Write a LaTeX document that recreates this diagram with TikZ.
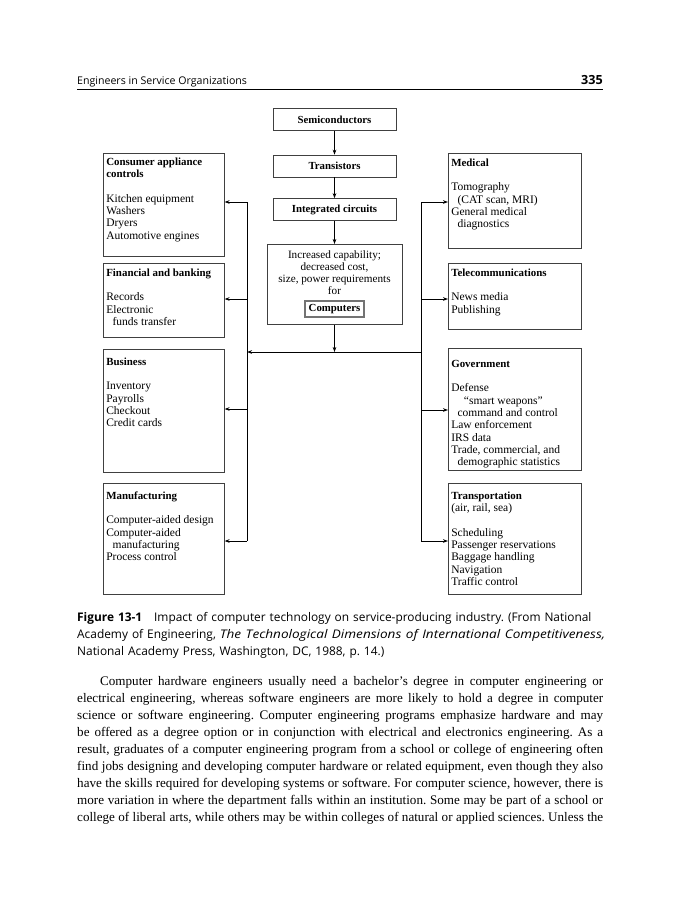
\documentclass[tikz,border=0pt]{standalone}
\usepackage{fontspec}
\usepackage{graphicx}
\setmainfont{Liberation Serif}
\newfontfamily\sansf{Open Sans}
\usetikzlibrary{arrows.meta,calc}
\frenchspacing
\newcommand\figfont{\fontsize{11.5}{12.3}\selectfont}
\newcommand\hdg[1]{{\fontsize{10.9}{12.3}\selectfont\bfseries #1}}
\newcommand\boxtext[4]{\parbox[t][#2][t]{#1}{\rule{0pt}{#3}#4}}
\newcommand\ind{\hspace*{0.55em}}
\newcommand\jl[1]{\makebox[526pt][s]{#1}}
\tikzset{
  catbox/.style={draw=black!75, line width=0.6pt, inner xsep=3pt, inner ysep=0pt, anchor=north west, font=\figfont},
  stepbox/.style={draw=black!75, line width=0.6pt, minimum width=123pt, minimum height=22pt, inner sep=0pt, font=\fontsize{10.8}{12.3}\selectfont\bfseries},
  arr/.style={-{Stealth[length=5pt,width=3.6pt]}, line width=0.85pt},
  ln/.style={line width=0.85pt}
}
\begin{document}
\begin{tikzpicture}[x=1pt,y=-1pt]
\useasboundingbox (0,0) rectangle (680,900);
\fill[white] (0,0) rectangle (680,900);
% header
\node[anchor=base west, inner sep=0pt, font=\sansf\fontsize{10.6}{12}\selectfont] (hd) at (77,84) {Engineers in Service Organizations};
\node[anchor=base east, inner sep=0pt, font=\sansf\bfseries\fontsize{12.6}{14}\selectfont] (pg) at (603,84) {335};
\coordinate (rl) at (77,89);
\coordinate (rr) at (603,89);
\draw[line width=0.8pt] (rl) -- (rr);
% center stack
\node[stepbox] (semi) at (334.5,119.5) {Semiconductors};
\node[stepbox] (trans) at (334.5,166) {Transistors};
\node[stepbox] (ic) at (334.5,209.5) {Integrated circuits};
\node[draw=black!75, line width=0.6pt, minimum width=135pt, minimum height=80pt, inner sep=0pt, anchor=north] (inc) at (334.5,244) {};
\node[anchor=north, align=center, inner sep=0pt, font=\fontsize{11.2}{12.2}\selectfont] (inctext) at (334.5,246) {\rule{0pt}{12pt}Increased capability;\\decreased cost,\\size, power requirements\\for};
\node[draw=black!55, line width=1.3pt, minimum width=59pt, minimum height=16pt, inner sep=0pt, font=\fontsize{10.8}{12.3}\selectfont\bfseries] (comp) at (334.5,309) {Computers};
% left boxes
\node[catbox] (cons) at (103,153) {\boxtext{115pt}{103pt}{12pt}{\hdg{Consumer appliance}\\\hdg{controls}\\[12.3pt]Kitchen equipment\\Washers\\Dryers\\Automotive engines}};
\node[catbox] (fin) at (103,263) {\boxtext{115pt}{74pt}{13pt}{\hdg{Financial and banking}\\[12.3pt]Records\\Electronic\\\ind funds transfer}};
\node[catbox] (bus) at (103,349) {\boxtext{115pt}{123pt}{16pt}{\hdg{Business}\\[12.3pt]Inventory\\Payrolls\\Checkout\\Credit cards}};
\node[catbox] (man) at (103,483) {\boxtext{115pt}{111pt}{16pt}{\hdg{Manufacturing}\\[12.3pt]Computer-aided design\\Computer-aided\\\ind manufacturing\\Process control}};
% right boxes
\node[catbox] (med) at (448,153) {\boxtext{127pt}{95pt}{13pt}{\hdg{Medical}\\[12.3pt]Tomography\\\ind(CAT scan, MRI)\\General medical\\\ind diagnostics}};
\node[catbox] (tel) at (448,263) {\boxtext{127pt}{66pt}{13pt}{\hdg{Telecommunications}\\[12.3pt]News media\\Publishing}};
\node[catbox] (gov) at (448,348) {\boxtext{127pt}{122pt}{19pt}{\hdg{Government}\\[12.3pt]Defense\\\ind\ind ``smart weapons''\\\ind command and control\\Law enforcement\\IRS data\\Trade, commercial, and\\\ind demographic statistics}};
\node[catbox] (tra) at (448,483) {\boxtext{127pt}{111pt}{16pt}{\hdg{Transportation}\\(air, rail, sea)\\[12.3pt]Scheduling\\Passenger reservations\\Baggage handling\\Navigation\\Traffic control}};
% connectors
\draw[arr] (semi) -- (trans);
\draw[arr] (trans) -- (ic);
\draw[arr] (ic) -- (inc);
\coordinate (hc) at (334.5,352);
\draw[arr] (inc.south) -- (hc);
\coordinate (l1) at (247,202);
\coordinate (l2) at (247,299);
\coordinate (lh) at (247,352);
\coordinate (l3) at (247,409);
\coordinate (l4) at (247,541);
\coordinate (r1) at (421,202);
\coordinate (r2) at (421,299);
\coordinate (rh) at (421,352);
\coordinate (r3) at (421,410);
\coordinate (r4) at (421,541);
\draw[ln] (l1) -- (l4);
\draw[ln] (r1) -- (r4);
\draw[arr] (rh) -- (lh);
\draw[arr] (l1) -- (l1 -| cons.east);
\draw[arr] (l2) -- (l2 -| fin.east);
\draw[arr] (l3) -- (l3 -| bus.east);
\draw[arr] (l4) -- (l4 -| man.east);
\draw[arr] (r1) -- (r1 -| med.west);
\draw[arr] (r2) -- (r2 -| tel.west);
\draw[arr] (r3) -- (r3 -| gov.west);
\draw[arr] (r4) -- (r4 -| tra.west);
% caption
\node[anchor=north west, inner sep=0pt, text width=560pt, align=left, font=\sansf\fontsize{11.9}{17}\selectfont] (cap) at (77,609) {\frenchspacing\rule{0pt}{12pt}\textbf{Figure 13-1}\quad Impact of computer technology on service-producing industry. (From National\\Academy of Engineering, \scalebox{1.14}[1]{\textit{The Technological Dimensions of International Competitiveness,}}\\National Academy Press, Washington, DC, 1988, p.~14.)};
% body text
\node[anchor=north west, inner sep=0pt, text width=526pt, align=left, font=\fontsize{13.1}{17}\selectfont] (body) at (77,674) {\spaceskip=0pt\xspaceskip=0pt\frenchspacing\rule{0pt}{11pt}\hspace*{23pt}\makebox[503pt][s]{Computer hardware engineers usually need a bachelor’s degree in computer engineering or}\\
\jl{electrical engineering, whereas software engineers are more likely to hold a degree in computer}\\
\jl{science or software engineering. Computer engineering programs emphasize hardware and may}\\
\jl{be offered as a degree option or in conjunction with electrical and electronics engineering. As a}\\
\jl{result, graduates of a computer engineering program from a school or college of engineering often}\\
\jl{find jobs designing and developing computer hardware or related equipment, even though they also}\\
\jl{have the skills required for developing systems or software. For computer science, however, there is}\\
\jl{more variation in where the department falls within an institution. Some may be part of a school or}\\
\jl{college of liberal arts, while others may be within colleges of natural or applied sciences. Unless the}};
\end{tikzpicture}
\end{document}
